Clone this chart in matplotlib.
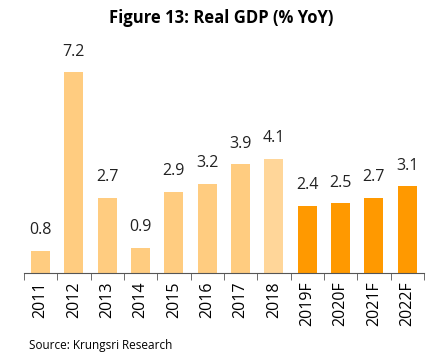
import matplotlib.pyplot as plt
import numpy as np

# data
years = ['2011', '2012', '2013', '2014', '2015', '2016', '2017', '2018',
         '2019F', '2020F', '2021F', '2022F']
gdp = [0.8, 7.2, 2.7, 0.9, 2.9, 3.2, 3.9, 4.1, 2.4, 2.5, 2.7, 3.1]
colors = ['#FFCC80'] * 7 + ['#FFD699'] + ['#FF9900'] * 4

plt.rcParams['font.family'] = ['Open Sans', 'DejaVu Sans']

fig = plt.figure(figsize=(4.42, 3.61), dpi=100)
ax = fig.add_axes([0.054, 0.244, 0.905, 0.618])

x = np.arange(len(years))
bars = ax.bar(x, gdp, width=0.57, color=colors)

for xi, v in zip(x, gdp):
    ax.text(xi, v + 0.45, f'{v:.1f}', ha='center', va='bottom', fontsize=11.5, color='#222222')

ax.set_xlim(-0.5, len(years) - 0.5)
ax.set_ylim(0, 8)
ax.set_yticks([])
for s in ['left', 'right', 'top']:
    ax.spines[s].set_visible(False)
ax.spines['bottom'].set_color('#555555')

ax.set_xticks(x)
ax.set_xticklabels(years, rotation=90, fontsize=11.5)
ax.tick_params(axis='x', which='major', length=0, pad=6)
ax.set_xticks(np.arange(-0.5, len(years)), minor=True)
ax.tick_params(axis='x', which='minor', length=5, color='#555555')

fig.text(0.5, 0.95, 'Figure 13: Real GDP (% YoY)', ha='center', va='center',
         fontsize=12, fontweight='bold')
fig.text(0.065, 0.042, 'Source: Krungsri Research', ha='left', va='center', fontsize=8.5)

fig.savefig('out.png', dpi=100)
